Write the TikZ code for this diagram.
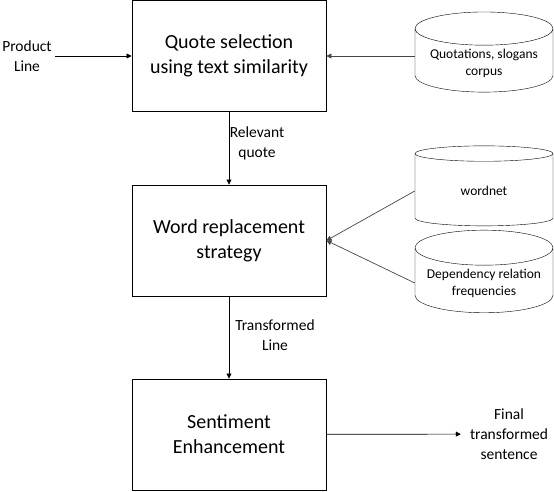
\documentclass[tikz,border=0pt]{standalone}
\usepackage{fontspec}
\setmainfont{Carlito}
\usetikzlibrary{shapes.geometric,arrows.meta}
\definecolor{linegray}{RGB}{70,70,70}

\tikzset{
  stagebox/.style={draw, line width=0.9pt, minimum width=194pt, minimum height=111pt,
    align=center, font=\fontsize{20}{25}\selectfont},
  store/.style={draw, cylinder, shape border rotate=90, aspect=0.29, minimum width=138pt,
    align=center, font=\fontsize{13.5}{17}\selectfont},
  flowtext/.style={align=center, font=\fontsize{15.5}{20}\selectfont},
  flow/.style={-{Triangle[length=5pt,width=5pt]}, line width=0.7pt},
}

\begin{document}
\begin{tikzpicture}[x=1pt, y=-1pt]
\useasboundingbox (0,0) rectangle (554,492);

% processing stages
\node[stagebox] (quote) at (229,56) {Quote selection\\using text similarity};
\node[stagebox] (replace) at (229,240.5) {Word replacement\\strategy};
\node[stagebox] (senti) at (229,434.5) {Sentiment\\Enhancement};

% data stores
\node[store, minimum height=76pt] (corpus) at (484,63) {Quotations, slogans\\corpus};
\node[store, minimum height=80pt] (wordnet) at (484,191) {wordnet};
\node[store, minimum height=63pt] (deprel) at (484,283) {Dependency relation\\frequencies};

% inputs and outputs
\node[flowtext] (product) at (27,56) {Product\\Line};
\node[flowtext, inner xsep=9pt] (final) at (509,434) {Final\\transformed\\sentence};

% main flow
\draw[flow] (product) -- (quote);
\draw[flow] (quote) -- (replace);
\node[flowtext] (relq) at (257,143) {Relevant\\quote};
\draw[flow] (replace) -- (senti);
\node[flowtext] (transl) at (275,335) {Transformed\\Line};
\draw[flow] (senti) -- (final);

% resources
\draw[flow, linegray] (corpus.west |- quote.east) -- (quote.east);
\draw[flow, linegray] (wordnet.west) -- (replace.east);
\draw[flow, linegray] (deprel.west) -- (replace.east);
\end{tikzpicture}
\end{document}
